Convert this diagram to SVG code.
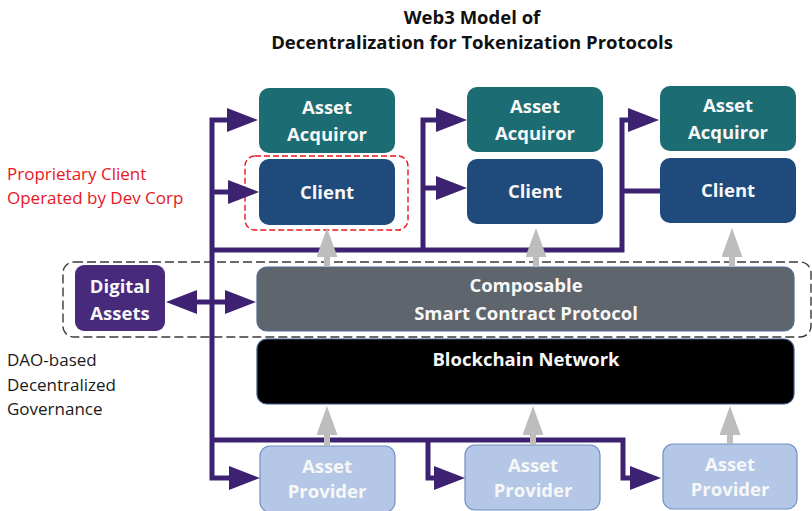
<svg xmlns="http://www.w3.org/2000/svg" width="812" height="511" viewBox="0 0 812 511">
  <style>
    .title { font-family: "Open Sans", "Liberation Sans", sans-serif; font-weight: 700; font-size: 18.5px; fill: #111; text-anchor: middle; }
    .lbl { font-family: "Open Sans", "Liberation Sans", sans-serif; font-weight: 700; font-size: 18.5px; fill: #f7f7f7; text-anchor: middle; }
    .note { font-family: "Open Sans", "Liberation Sans", sans-serif; font-size: 17px; }
    .acq { fill: #1c6d73; }
    .cli { fill: #1f4b7c; }
    .prov { fill: #b4c7e7; stroke: #6f8fc4; stroke-width: 1.2; }
    .proto { fill: #5f656d; stroke: #4f6b93; stroke-width: 1.2; }
    .chain { fill: #000; stroke: #3e5a86; stroke-width: 1.2; }
    .assets { fill: #472a7c; }
    .bus { fill: none; stroke: #3c2270; stroke-width: 5; stroke-linejoin: miter; }
    .up { fill: none; stroke: #bdbdbd; stroke-width: 6; }
  </style>
  <defs>
    <marker id="headP" viewBox="0 0 31 24" refX="0" refY="12" markerWidth="31" markerHeight="24" markerUnits="userSpaceOnUse" orient="auto-start-reverse">
      <path d="M0,0 L31,12 L0,24 z" fill="#3c2270"/>
    </marker>
    <marker id="headG" viewBox="0 0 29 21" refX="0" refY="10.5" markerWidth="29" markerHeight="21" markerUnits="userSpaceOnUse" orient="auto">
      <path d="M0,0 L29,10.5 L0,21 z" fill="#bdbdbd"/>
    </marker>
  </defs>

  <rect width="812" height="511" fill="#fff"/>

  <!-- Title -->
  <text class="title" x="472" y="24">Web3 Model of</text>
  <text class="title" x="472" y="49">Decentralization for Tokenization Protocols</text>

  <!-- Side notes -->
  <g id="note-proprietary" class="note" fill="#e8161e">
    <text x="7" y="180">Proprietary Client</text>
    <text x="7" y="204">Operated by Dev Corp</text>
  </g>
  <g id="note-dao" class="note" fill="#1a1a1a">
    <text x="7" y="366">DAO-based</text>
    <text x="7" y="391">Decentralized</text>
    <text x="7" y="415">Governance</text>
  </g>

  <!-- Dashed groupings -->
  <rect id="proprietary-frame" x="245" y="156" width="163" height="74" rx="10" fill="none" stroke="#e8161e" stroke-width="1.4" stroke-dasharray="6 3"/>
  <rect id="governance-frame" x="63" y="262" width="748" height="75" rx="11" fill="none" stroke="#3a3a3a" stroke-width="1.4" stroke-dasharray="9 4"/>

  <!-- Nodes -->
  <g id="acquiror-1">
    <rect class="acq" x="259" y="88" width="136" height="65" rx="10"/>
    <text class="lbl" x="327" y="114">Asset</text>
    <text class="lbl" x="327" y="141">Acquiror</text>
  </g>
  <g id="acquiror-2">
    <rect class="acq" x="467" y="87" width="136" height="65" rx="10"/>
    <text class="lbl" x="535" y="113">Asset</text>
    <text class="lbl" x="535" y="140">Acquiror</text>
  </g>
  <g id="acquiror-3">
    <rect class="acq" x="660" y="86" width="136" height="65" rx="10"/>
    <text class="lbl" x="728" y="112">Asset</text>
    <text class="lbl" x="728" y="139">Acquiror</text>
  </g>
  <g id="client-1">
    <rect class="cli" x="259" y="159" width="136" height="66" rx="10"/>
    <text class="lbl" x="327" y="199">Client</text>
  </g>
  <g id="client-2">
    <rect class="cli" x="467" y="159" width="136" height="65" rx="10"/>
    <text class="lbl" x="535" y="198">Client</text>
  </g>
  <g id="client-3">
    <rect class="cli" x="660" y="158" width="136" height="65" rx="10"/>
    <text class="lbl" x="728" y="197">Client</text>
  </g>
  <g id="digital-assets">
    <rect class="assets" x="75" y="265" width="90" height="66" rx="9"/>
    <text class="lbl" x="120" y="293">Digital</text>
    <text class="lbl" x="120" y="320">Assets</text>
  </g>
  <g id="protocol">
    <rect class="proto" x="257" y="267" width="537" height="64" rx="10"/>
    <text class="lbl" x="526" y="292">Composable</text>
    <text class="lbl" x="526" y="320">Smart Contract Protocol</text>
  </g>
  <g id="blockchain">
    <rect class="chain" x="257" y="339" width="537" height="65" rx="10"/>
    <text class="lbl" x="526" y="366">Blockchain Network</text>
  </g>
  <g id="provider-1">
    <rect class="prov" x="260" y="446" width="135" height="66" rx="10"/>
    <text class="lbl" x="327" y="473">Asset</text>
    <text class="lbl" x="327" y="498">Provider</text>
  </g>
  <g id="provider-2">
    <rect class="prov" x="465" y="445" width="135" height="65" rx="10"/>
    <text class="lbl" x="533" y="472">Asset</text>
    <text class="lbl" x="533" y="497">Provider</text>
  </g>
  <g id="provider-3">
    <rect class="prov" x="663" y="444" width="134" height="65" rx="10"/>
    <text class="lbl" x="730" y="471">Asset</text>
    <text class="lbl" x="730" y="496">Provider</text>
  </g>

  <!-- Connectors -->
  <g id="connectors">
    <!-- purple distribution lines -->
    <path class="bus" d="M229,478 H212 V120 H227" marker-start="url(#headP)" marker-end="url(#headP)"/>
    <path class="bus" d="M212,192 H228" marker-end="url(#headP)"/>
    <path class="bus" d="M212,250 H622 V120 H628" marker-end="url(#headP)"/>
    <path class="bus" d="M423,250 V120 H436" marker-end="url(#headP)"/>
    <path class="bus" d="M423,188 H436" marker-end="url(#headP)"/>
    <path class="bus" d="M622,191 H660"/>
    <path class="bus" d="M212,440 H623 V478 H630" marker-end="url(#headP)"/>
    <path class="bus" d="M428,440 V478 H434" marker-end="url(#headP)"/>
    <path class="bus" d="M197,302 H225" marker-start="url(#headP)" marker-end="url(#headP)"/>
    <!-- grey upward flows -->
    <path class="up" d="M327,267 V257" marker-end="url(#headG)"/>
    <path class="up" d="M536,267 V257" marker-end="url(#headG)"/>
    <path class="up" d="M732,267 V257" marker-end="url(#headG)"/>
    <path class="up" d="M327,446 V435" marker-end="url(#headG)"/>
    <path class="up" d="M533,445 V435" marker-end="url(#headG)"/>
    <path class="up" d="M730,444 V435" marker-end="url(#headG)"/>
  </g>
</svg>
